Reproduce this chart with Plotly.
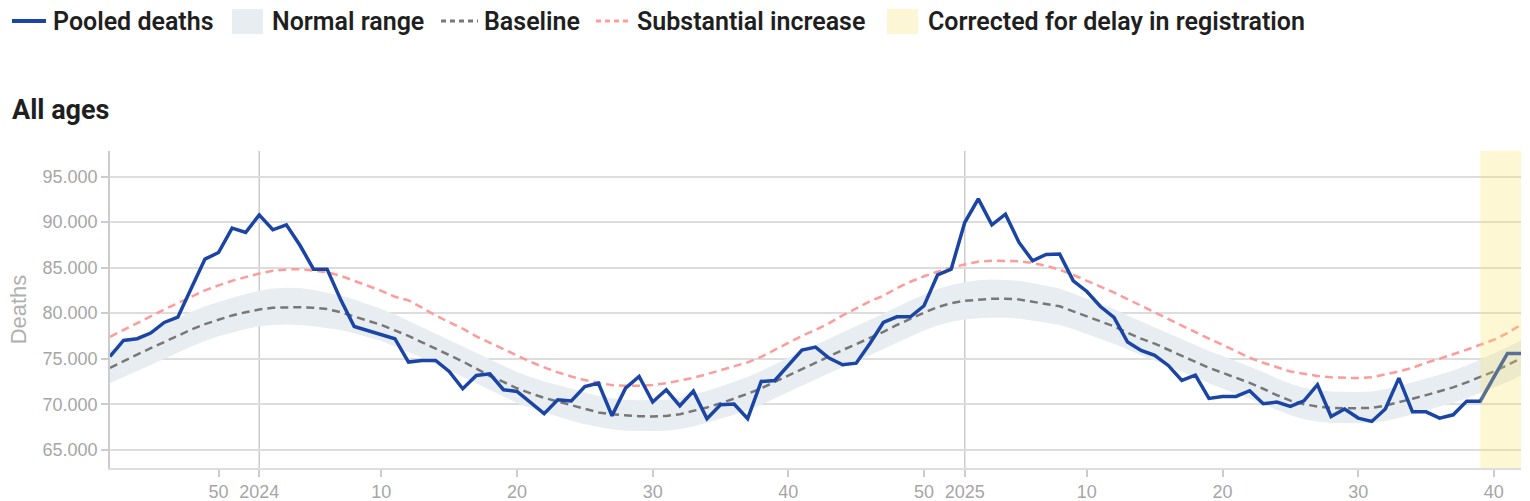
import plotly.graph_objects as go

# ---- data (ISO year / week, weekly deaths) ----
years = [2023] * 11 + [2024] * 52 + [2025] * 42
weeks = list(range(42, 53)) + list(range(1, 53)) + list(range(1, 43))

deaths = [
    75250, 77000, 77190, 77810, 78980, 79560, 82750, 85930, 86660, 89330,
    88850, 90790, 89150, 89700, 87450, 84830, 84830, 81500, 78540, 78100,
    77590, 77190, 74630, 74810, 74810, 73600, 71700, 73160, 73340, 71590,
    71410, 70130, 68960, 70490, 70350, 71950, 72320, 68740, 71770, 73050,
    70240, 71590, 69830, 71440, 68410, 69940, 70020, 68410, 72500, 72610,
    74260, 75940, 76270, 75060, 74330, 74510, 76640, 78980, 79600, 79600,
    80810, 84210, 84830, 89950, 92550, 89700, 90870, 87760, 85750, 86450,
    86480, 83550, 82380, 80730, 79530, 76820, 75910, 75360, 74260, 72610,
    73200, 70640, 70860, 70860, 71480, 70050, 70240, 69760, 70380, 72140,
    68660, 69470, 68480, 68110, 69470, 72870, 69170, 69170, 68480, 68840,
    70340, 70340, 72980, 75580, 75580,
]

baseline = [
    74000, 74750, 75450, 76150, 76850, 77550, 78200, 78800, 79300, 79750,
    80100, 80400, 80600, 80650, 80650, 80600, 80450, 80100, 79650, 79150,
    78700, 78100, 77500, 76800, 76100, 75350, 74700, 73900, 73100, 72450,
    71750, 71200, 70700, 70300, 69900, 69450, 69100, 68900, 68750, 68680,
    68660, 68720, 68900, 69250, 69650, 70100, 70600, 71150, 71750, 72450,
    73200, 73900, 74550, 75250, 75950, 76600, 77250, 77950, 78700, 79400,
    80050, 80650, 81100, 81350, 81500, 81580, 81580, 81500, 81250, 81000,
    80750, 80200, 79650, 79100, 78550, 77850, 77200, 76650, 76000, 75350,
    74700, 74000, 73450, 72900, 72350, 71700, 71000, 70400, 70000, 69750,
    69600, 69550, 69550, 69600, 69850, 70200, 70600, 71000, 71400, 71850,
    72400, 73000, 73600, 74300, 75050,
]

upper = [
    75900, 76650, 77350, 78050, 78750, 79450, 80150, 80750, 81250, 81700,
    82100, 82450, 82700, 82800, 82750, 82550, 82250, 81950, 81500, 81000,
    80450, 79850, 79150, 78450, 77750, 77050, 76400, 75650, 74900, 74200,
    73550, 73000, 72500, 72100, 71700, 71250, 70900, 70650, 70500, 70450,
    70450, 70500, 70700, 71050, 71450, 71950, 72450, 73000, 73650, 74350,
    75100, 75850, 76500, 77200, 77900, 78550, 79250, 79950, 80700, 81400,
    82050, 82650, 83100, 83400, 83600, 83680, 83650, 83550, 83300, 83000,
    82700, 82150, 81600, 81050, 80450, 79750, 79100, 78500, 77850, 77200,
    76550, 75850, 75300, 74700, 74150, 73550, 72850, 72250, 71800, 71550,
    71400, 71350, 71350, 71400, 71650, 72000, 72400, 72800, 73250, 73700,
    74250, 74900, 75550, 76250, 77000,
]

lower = [
    72300, 73000, 73650, 74300, 75000, 75650, 76350, 76950, 77450, 77850,
    78250, 78550, 78700, 78750, 78700, 78550, 78350, 78150, 77800, 77400,
    76950, 76350, 75750, 75100, 74400, 73700, 73050, 72300, 71550, 70850,
    70150, 69600, 69100, 68650, 68200, 67800, 67500, 67250, 67100, 67050,
    67050, 67100, 67250, 67550, 67950, 68400, 68850, 69350, 69950, 70650,
    71350, 72050, 72700, 73400, 74050, 74700, 75350, 76050, 76750, 77450,
    78100, 78650, 79050, 79300, 79450, 79500, 79500, 79400, 79200, 78950,
    78700, 78250, 77700, 77200, 76650, 76000, 75400, 74800, 74200, 73600,
    72950, 72300, 71700, 71150, 70600, 70000, 69350, 68800, 68350, 68100,
    67950, 67900, 67900, 67950, 68150, 68500, 68900, 69300, 69700, 70150,
    70650, 71250, 71800, 72450, 73150,
]

substantial = [
    77400, 78150, 78900, 79700, 80400, 81100, 81800, 82500, 83050, 83550,
    83950, 84350, 84650, 84800, 84830, 84700, 84500, 84100, 83550, 82950,
    82450, 81800, 81400, 80600, 79750, 79000, 78300, 77450, 76750, 76000,
    75300, 74650, 74050, 73500, 73050, 72650, 72350, 72100, 72030, 72030,
    72120, 72300, 72600, 72900, 73300, 73750, 74200, 74600, 75200, 75950,
    76700, 77500, 78150, 78900, 79750, 80550, 81300, 81900, 82750, 83450,
    84050, 84550, 85000, 85350, 85650, 85760, 85770, 85700, 85500, 85200,
    84760, 84210, 83550, 82930, 82270, 81540, 80810, 80070, 79340, 78610,
    77880, 77190, 76530, 75800, 75100, 74550, 74100, 73600, 73350, 73100,
    72950, 72870, 72870, 72950, 73250, 73600, 74000, 74550, 75000, 75450,
    75980, 76530, 77080, 77810, 78720,
]

corrected_from = (2025, 39)   # first week corrected for registration delay
y_ticks = [65000, 70000, 75000, 80000, 85000, 90000, 95000]

# ---- derived positions ----
x = list(range(len(weeks)))
tickvals = [i for i, w in enumerate(weeks) if w % 10 == 0 or w == 1]
ticktext = [str(years[i]) if weeks[i] == 1 else str(weeks[i]) for i in tickvals]
year_starts = [i for i, w in enumerate(weeks) if w == 1]
corr_idx = next(i for i, (yy, ww) in enumerate(zip(years, weeks)) if (yy, ww) == corrected_from)

BLUE = "#1a45a5"
BAND = "#e8edf2"
GREY = "#777777"
RED = "#ff9b9b"
YELLOW_SW = "#fdf6d4"

fig = go.Figure()
fig.add_trace(go.Scatter(x=x, y=lower, mode="lines", line=dict(width=0, color=BAND),
                         hoverinfo="skip", showlegend=False))
fig.add_trace(go.Scatter(x=x, y=upper, mode="lines", line=dict(width=0, color=BAND),
                         fill="tonexty", fillcolor=BAND, name="Normal range", showlegend=False))
fig.add_trace(go.Scatter(x=x, y=baseline, mode="lines", name="Baseline", showlegend=False,
                         line=dict(color=GREY, width=2.5, dash="8px,5px")))
fig.add_trace(go.Scatter(x=x, y=substantial, mode="lines", name="Substantial increase", showlegend=False,
                         line=dict(color=RED, width=2.5, dash="8px,5px")))
fig.add_trace(go.Scatter(x=x, y=deaths, mode="lines", name="Pooled deaths", showlegend=False,
                         line=dict(color=BLUE, width=3.5)))

shapes = []
for ys in year_starts:
    shapes.append(dict(type="line", xref="x", yref="paper", x0=ys, x1=ys, y0=0, y1=1,
                       line=dict(color="#cccccc", width=1.5), layer="below"))
shapes.append(dict(type="rect", xref="x", yref="paper", x0=corr_idx, x1=x[-1], y0=0, y1=1,
                   fillcolor="rgb(248,228,100)", opacity=0.28, line=dict(width=0), layer="above"))

# ---- manual legend (pixel layout converted to paper coords) ----
L, R, T, B = 110, 1521, 151, 468.3
def px(v):
    return (v - L) / (R - L)
def py(v):
    return (B - v) / (B - T)

legend_y = 21
shapes += [
    dict(type="line", xref="paper", yref="paper", x0=px(12), x1=px(46), y0=py(legend_y), y1=py(legend_y),
         line=dict(color=BLUE, width=4)),
    dict(type="rect", xref="paper", yref="paper", x0=px(232), x1=px(263), y0=py(34), y1=py(9),
         fillcolor=BAND, line=dict(width=0)),
    dict(type="line", xref="paper", yref="paper", x0=px(441), x1=px(478), y0=py(legend_y), y1=py(legend_y),
         line=dict(color=GREY, width=3, dash="5px,4px")),
    dict(type="line", xref="paper", yref="paper", x0=px(596), x1=px(632), y0=py(legend_y), y1=py(legend_y),
         line=dict(color=RED, width=3, dash="5px,4px")),
    dict(type="rect", xref="paper", yref="paper", x0=px(887), x1=px(918), y0=py(34), y1=py(9),
         fillcolor=YELLOW_SW, line=dict(width=0)),
]
legend_items = [("Pooled deaths", 52), ("Normal range", 271), ("Baseline", 483),
                ("Substantial increase", 636), ("Corrected for delay in registration", 927)]
annotations = []
for label, lx in legend_items:
    annotations.append(dict(text=label, xref="paper", yref="paper", x=px(lx), y=py(legend_y),
                            xanchor="left", yanchor="middle", showarrow=False, borderpad=0,
                            font=dict(family="Roboto", size=25, color="#1f1f1f", weight=600)))

fig.update_layout(
    width=1530, height=501,
    margin=dict(l=L, r=1530 - R, t=T, b=501 - B, autoexpand=False),
    paper_bgcolor="white", plot_bgcolor="white",
    separators=",.",
    showlegend=False,
    title=dict(text="All ages", x=12 / 1530, xref="container", xanchor="left",
               y=1 - 110 / 501, yref="container", yanchor="middle", automargin=False,
               font=dict(family="Roboto", size=27, color="#1f1f1f", weight=700)),
    shapes=shapes,
    annotations=annotations,
    xaxis=dict(range=[x[0], x[-1]], tickvals=tickvals, ticktext=ticktext, showgrid=False,
               automargin=False,
               zeroline=False, showline=True, linecolor="#dddddd", linewidth=1.5,
               ticks="outside", ticklen=7, tickcolor="#cccccc", tickwidth=1.5,
               tickfont=dict(family="Liberation Sans", size=18, color="#a6a6a6")),
    yaxis=dict(range=[63000, 97800], tickvals=y_ticks, tickformat=",d", showgrid=True,
               automargin=False,
               gridcolor="#dddddd", gridwidth=1.5, zeroline=False, showline=True,
               linecolor="#cccccc", linewidth=1.5, ticks="outside", ticklen=7,
               tickcolor="#cccccc", tickwidth=1.5,
               tickfont=dict(family="Liberation Sans", size=18, color="#a6a6a6"),
               title=dict(text="Deaths", standoff=10,
                          font=dict(family="Liberation Sans", size=22, color="#b0b0b0"))),
)

fig.write_html("out.html", config={"displayModeBar": False},
               post_script="document.body.style.margin='0';document.body.style.overflow='hidden';")
